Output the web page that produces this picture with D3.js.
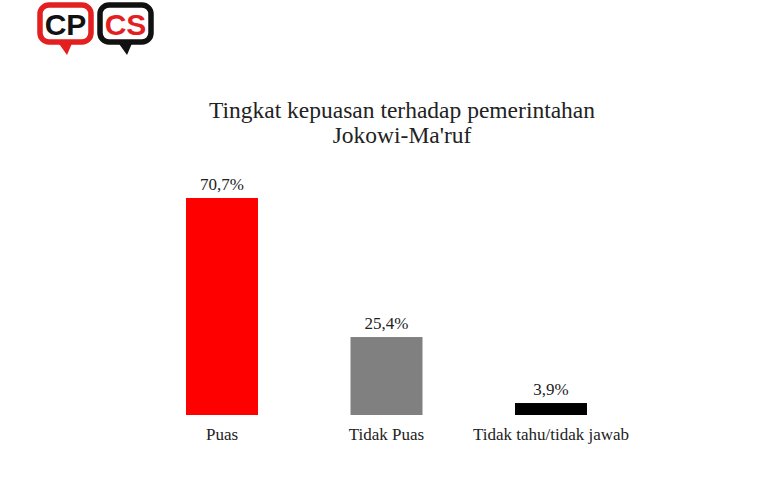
<!DOCTYPE html>
<html><head><meta charset="utf-8">
<script src="https://cdn.jsdelivr.net/npm/d3@7"></script>
<style>body{margin:0;background:#fff}</style>
</head><body>
<script>
const categories = ["Puas", "Tidak Puas", "Tidak tahu/tidak jawab"];
const values = [70.7, 25.4, 3.9];
const valueLabels = ["70,7%", "25,4%", "3,9%"];
const colors = ["#ff0000", "#808080", "#000000"];
const titleLines = ["Tingkat kepuasan terhadap pemerintahan", "Jokowi-Ma'ruf"];

const W = 779, H = 478;
const svg = d3.select("body").append("svg").attr("width", W).attr("height", H);
svg.append("rect").attr("width", W).attr("height", H).attr("fill", "#ffffff");

// logo
const logo = svg.append("g");
function bubble(x, stroke, txt, txtColor) {
  const g = logo.append("g");
  g.append("path")
    .attr("d", `M${x+20},41 L${x+30},55 L${x+36},41 Z`)
    .attr("fill", stroke);
  g.append("rect").attr("x", x + 3).attr("y", 5).attr("width", 51).attr("height", 37)
    .attr("rx", 9).attr("fill", "#fff").attr("stroke", stroke).attr("stroke-width", 5.5);
  g.append("text").attr("x", x + 28.5).attr("y", 35).attr("text-anchor", "middle")
    .attr("font-family", "Liberation Sans Narrow, Liberation Sans, Arial, sans-serif").attr("font-weight", "bold")
    .attr("font-size", 30).attr("fill", txtColor).text(txt);
}
bubble(37, "#e41f1f", "CP", "#111");
bubble(97, "#111", "CS", "#e41f1f");

const x = d3.scaleBand().domain(categories).range([186, 587]).paddingInner(0.5623).paddingOuter(0);
const y = d3.scaleLinear().domain([0, 70.7]).range([415, 198]);

const font = "'Liberation Serif', 'DejaVu Serif', serif";

svg.append("g").selectAll("text").data(titleLines).join("text")
  .attr("x", 402).attr("y", (d, i) => 118 + i * 25)
  .attr("text-anchor", "middle").attr("font-family", font).attr("font-size", 23.5)
  .attr("fill", "#222").text(d => d);

svg.append("g").selectAll("rect").data(values).join("rect")
  .attr("x", (d, i) => x(categories[i])).attr("width", x.bandwidth())
  .attr("y", d => y(d)).attr("height", d => y(0) - y(d))
  .attr("fill", (d, i) => colors[i]);

svg.append("g").selectAll("text").data(values).join("text")
  .attr("x", (d, i) => x(categories[i]) + x.bandwidth() / 2)
  .attr("y", d => y(d) - 8)
  .attr("text-anchor", "middle").attr("font-family", font).attr("font-size", 17)
  .attr("fill", "#222").text((d, i) => valueLabels[i]);

const xAxis = svg.append("g").attr("transform", "translate(0,415)")
  .call(d3.axisBottom(x).tickSize(0).tickPadding(13));
xAxis.select(".domain").remove();
xAxis.selectAll("text").attr("font-family", font).attr("font-size", 17).attr("fill", "#222");
</script>
</body></html>
